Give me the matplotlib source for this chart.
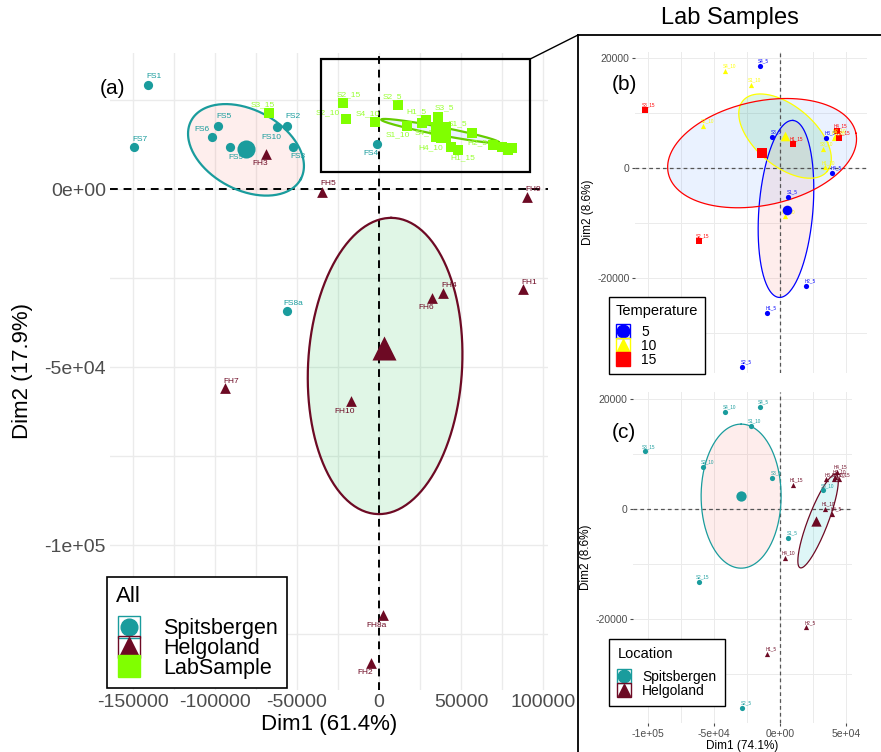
import numpy as np
import matplotlib.pyplot as plt
from matplotlib.lines import Line2D
from matplotlib.patches import Rectangle

plt.rcParams['font.family'] = ['Liberation Sans', 'DejaVu Sans']

# ---------------- panel (a): all samples (PCA scores) ----------------
sp_names = ["FS1", "FS7", "FS5", "FS6", "FS9", "FS10", "FS2", "FS3", "FS4", "FS8a"]
sp_x = [-140900, -149400, -98200, -101800, -90900, -62200, -56100, -52400, -1200, -56100]
sp_y = [29200, 11800, 17700, 14600, 11800, 17400, 17700, 11800, 12600, -34300]

hg_names = ["FH3", "FH5", "FH9", "FH1", "FH4", "FH6", "FH7", "FH10", "FH8a", "FH2"]
hg_x = [-68900, -34800, 90200, 87800, 39000, 32300, -93900, -17100, 2400, -4900]
hg_y = [9800, -800, -2200, -28100, -29200, -30600, -55900, -59600, -119700, -133100]

lab_names = ["S3_15", "S2_15", "S2_10", "S4_10", "S2_5", "S1_10", "H1_5", "", "S3_5", "S4_5",
             "", "", "S1_5", "H4_10", "H1_15", "H2_5", "", "", ""]
lab_x = [-67100, -22000, -20100, -2400, 11600, 17100, 26200, 28700, 36000, 34800,
         40200, 37800, 56700, 43900, 48200, 69500, 75000, 81100, 78700]
lab_y = [21300, 24200, 19700, 18800, 23600, 17700, 18500, 19400, 20200, 16600,
         17100, 14300, 15700, 11800, 11000, 12400, 11800, 11500, 11000]

# group centres
cent_sp = [-81100, 11200]
cent_hg = [3000, -44700]
cent_lab = [37800, 16000]

# confidence ellipses: centre, two semi-axis vectors (data units)
ell_sp = [(-81100, 11000), (33400, -8200), (-11500, -9900)]
ell_hg = [(3700, -49700), (3700, 41600), (47000, 0)]
ell_lab = [(37200, 16300), (35900, -3200), (-500, -1100)]

zoom_box = [-35400, 4800, 92100, 36500]   # x0, y0, x1, y1

# label offsets in pixels (dx, dy up)
offs_a = {"FS1": (6, 9), "FS7": (6, 8), "FS5": (6, 9), "FS6": (-10, 8), "FS9": (6, -10),
          "FS10": (-6, -10), "FS2": (6, 9), "FS3": (5, -9), "FS4": (-6, -9), "FS8a": (6, 8),
          "FH3": (-6, -9), "FH5": (6, 8), "FH9": (6, 7), "FH1": (6, 7), "FH4": (6, 7),
          "FH6": (-6, -10), "FH7": (6, 7), "FH10": (-6, -10), "FH8a": (-6, -10), "FH2": (-6, -10),
          "S3_15": (-6, 8), "S2_15": (6, 8), "S2_10": (-18, 6), "S4_10": (-7, 8), "S2_5": (-6, 8),
          "S1_10": (-9, -9), "H1_5": (-6, 11), "S3_5": (6, 9), "S1_5": (-15, 9), "S4_5": (-12, -3),
          "H4_10": (-20, -1), "H1_15": (5, -8), "H2_5": (-16, 2)}

# ---------------- panels (b), (c): lab samples ----------------
ls_names = ["S4_5", "S4_10", "S1_10", "S3_15", "S2_10", "S3_5", "H1_15", "S3_10", "H3_5", "H4_15",
            "H2_15", "H2_10", "H1_10", "H4_5", "S1_5", "H4_10", "S2_15", "H2_5", "H1_5", "S2_5", "H3_10"]
ls_x = [-15500, -41700, -22300, -102500, -58000, -6100, 9500, 32500, 34800, 43000,
        45000, 41700, 33700, 39700, 6000, 3400, -61700, 19700, -9800, -28800, 41000]
ls_y = [18600, 17700, 15100, 10500, 7700, 5600, 4400, 3400, 5400, 6800,
        5400, 5800, 100, -900, -5200, -8800, -13200, -21500, -26300, -36200, 5400]

temps = [5, 10, 15]
locs = ["Spitsbergen", "Helgoland"]

ell_temp = {5: [(4500, -7450), (5300, 16100), (20400, -380)],
            10: [(3800, 5800), (31900, -6430), (-14600, -4180)],
            15: [(-13600, 2700), (71100, 3640), (8200, -9250)]}
ell_loc = {"Spitsbergen": [(-29500, 2360), (0, 13100), (30300, 0)],
           "Helgoland": [(28800, -2180), (13600, 8490), (7050, -650)]}

TEAL = '#1a9c9d'
MAROON = '#6d0a24'
GREEN = '#80ff00'
temp_col = {5: '#0000ff', 10: '#ffff00', 15: '#ff0000'}
temp_mk = {5: 'o', 10: '^', 15: 's'}
loc_col = {"Spitsbergen": TEAL, "Helgoland": MAROON}
loc_mk = {"Spitsbergen": 'o', "Helgoland": '^'}
FILL_PINK = '#f8766d'
FILL_GREEN = '#00ba38'
FILL_BLUE = '#619cff'
FILL_CYAN = '#00bfc4'
GRID = '#ebebeb'
TICK = '#4d4d4d'


def ellipse(ax, spec, edge, fill, lw=1.3, alpha=0.12):
    c, u, v = spec
    t = np.linspace(0, 2 * np.pi, 240)
    x = c[0] + u[0] * np.cos(t) + v[0] * np.sin(t)
    y = c[1] + u[1] * np.cos(t) + v[1] * np.sin(t)
    ax.fill(x, y, color=fill, alpha=alpha, lw=0, zorder=1)
    ax.plot(x, y, color=edge, lw=lw, zorder=2)


def labels(ax, names, xs, ys, col, size, offs=None, default=(4, 5)):
    for n, x, y in zip(names, xs, ys):
        if not n:
            continue
        dx, dy = (offs or {}).get(n, default)
        ax.annotate(n, (x, y), xytext=(dx * 0.72, dy * 0.72), textcoords='offset points',
                    ha='center', va='center', color=col, fontsize=size, zorder=4)


fig = plt.figure(figsize=(8.81, 7.52), dpi=100)

# ---------- (a) ----------
ax = fig.add_axes([110 / 881, 1 - 690 / 752, 438 / 881, 637 / 752])
ax.set_xlim(-164000, 103000)
ax.set_ylim(-140700, 38200)
ax.set_xticks([-150000, -100000, -50000, 0, 50000, 100000])
ax.set_xticklabels(['-150000', '-100000', '-50000', '0', '50000', '100000'])
ax.set_xticks([-125000, -75000, -25000, 25000, 75000], minor=True)
ax.set_yticks([-100000, -50000, 0])
ax.set_yticklabels(['-1e+05', '-5e+04', '0e+00'])
ax.set_yticks([-125000, -75000, -25000, 25000], minor=True)
ax.grid(True, which='both', color=GRID, lw=1.0, zorder=0)
ax.set_axisbelow(True)
for s in ax.spines.values():
    s.set_visible(False)
ax.tick_params(which='both', length=0, labelsize=14, labelcolor=TICK, pad=3)
ax.set_xlabel('Dim1 (61.4%)', fontsize=16, labelpad=2)
ax.set_ylabel('Dim2 (17.9%)', fontsize=16, labelpad=8)
ax.axhline(0, color='black', ls=(0, (4, 3)), lw=1.4, zorder=1.5)
ax.axvline(0, color='black', ls=(0, (4, 3)), lw=1.4, zorder=1.5)

ellipse(ax, ell_sp, TEAL, FILL_PINK, lw=1.6)
ellipse(ax, ell_hg, MAROON, FILL_GREEN, lw=1.6)
ellipse(ax, ell_lab, '#66cc00', FILL_BLUE, lw=1.6)

ax.scatter(sp_x, sp_y, s=44, marker='o', color=TEAL, lw=0, zorder=3)
ax.scatter(hg_x, hg_y, s=60, marker='^', color=MAROON, lw=0, zorder=3)
ax.scatter(lab_x, lab_y, s=50, marker='s', color=GREEN, lw=0, zorder=3)
labels(ax, sp_names, sp_x, sp_y, TEAL, 6, offs_a)
labels(ax, hg_names, hg_x, hg_y, MAROON, 6, offs_a)
labels(ax, lab_names, lab_x, lab_y, '#99ff33', 6, offs_a)
ax.scatter(*cent_sp, s=170, marker='o', color=TEAL, lw=0, zorder=5)
ax.scatter(*cent_hg, s=300, marker='^', color=MAROON, lw=0, zorder=5)
ax.scatter(*cent_lab, s=190, marker='s', color=GREEN, lw=0, zorder=5)

ax.add_patch(Rectangle((zoom_box[0], zoom_box[1]), zoom_box[2] - zoom_box[0],
                       zoom_box[3] - zoom_box[1], fill=False, ec='black', lw=1.6, zorder=6))
fig.text(100 / 881, 1 - 88 / 752, '(a)', fontsize=15, va='center')

h_all = [(Line2D([], [], marker='s', ms=16, mfc='none', mec=TEAL, ls=''),
          Line2D([], [], marker='o', ms=12, color=TEAL, ls='')),
         (Line2D([], [], marker='s', ms=16, mfc='none', mec=MAROON, ls=''),
          Line2D([], [], marker='^', ms=14, color=MAROON, ls='')),
         (Line2D([], [], marker='s', ms=16, mfc='none', mec=GREEN, ls=''),
          Line2D([], [], marker='s', ms=14, color=GREEN, ls=''))]
leg = ax.legend(h_all, ['Spitsbergen', 'Helgoland', 'LabSample'], title='All',
                loc='upper left', bbox_to_anchor=(107 / 881, 1 - 577 / 752),
                bbox_transform=fig.transFigure, fancybox=False, edgecolor='black',
                framealpha=1, fontsize=15.5, title_fontsize=16, alignment='left',
                labelspacing=-0.05, handlelength=1.2, handletextpad=1.0, borderpad=0.42,
                borderaxespad=0)
leg.get_frame().set_linewidth(1.2)
leg._legend_box.sep = 8
leg.set_zorder(10)

# ---------- (b) and (c) ----------
ls_temp = [int(n.split('_')[1]) for n in ls_names]
ls_loc = ["Spitsbergen" if n.startswith('S') else "Helgoland" for n in ls_names]


def lab_axes(rect, xlim, ylim):
    a = fig.add_axes(rect)
    a.set_xlim(*xlim)
    a.set_ylim(*ylim)
    a.set_xticks([-100000, -50000, 0, 50000])
    a.set_xticklabels(['-1e+05', '-5e+04', '0e+00', '5e+04'])
    a.set_xticks([-75000, -25000, 25000], minor=True)
    a.set_yticks([-20000, 0, 20000])
    a.set_yticklabels(['-20000', '0', '20000'])
    a.set_yticks([-30000, -10000, 10000], minor=True)
    a.grid(True, which='both', color=GRID, lw=0.7, zorder=0)
    a.set_axisbelow(True)
    for s in a.spines.values():
        s.set_visible(False)
    a.tick_params(which='major', length=2.5, color=TICK, labelsize=7.5, labelcolor=TICK, pad=1.5)
    a.tick_params(which='minor', length=0)
    a.axhline(0, color='#555555', ls=(0, (3, 2.5)), lw=0.9, zorder=1.5)
    a.axvline(0, color='#555555', ls=(0, (3, 2.5)), lw=0.9, zorder=1.5)
    a.set_ylabel('Dim2 (8.6%)', fontsize=8.5, labelpad=2)
    return a


axb = lab_axes([635 / 881, 1 - 373 / 752, 232 / 881, 321 / 752], (-109900, 65900), (-37300, 21100))
axb.tick_params(axis='x', labelbottom=False, length=0)
for t, fc in zip(temps, [FILL_PINK, FILL_GREEN, FILL_BLUE]):
    ellipse(axb, ell_temp[t], temp_col[t], fc, lw=0.9, alpha=0.13)
for t in temps:
    idx = [i for i, v in enumerate(ls_temp) if v == t]
    xs = [ls_x[i] for i in idx]
    ys = [ls_y[i] for i in idx]
    axb.scatter(xs, ys, s=14, marker=temp_mk[t], color=temp_col[t], lw=0, zorder=3)
    labels(axb, [ls_names[i] for i in idx], xs, ys, temp_col[t], 3.3)
    axb.scatter(np.mean(xs), np.mean(ys), s=48, marker=temp_mk[t], color=temp_col[t], lw=0, zorder=5)
fig.text(612 / 881, 1 - 85 / 752, '(b)', fontsize=15, va='center')

h_t = [(Line2D([], [], marker='s', ms=10, mfc='none', mec=temp_col[t], ls=''),
        Line2D([], [], marker=temp_mk[t], ms=9, color=temp_col[t], ls='')) for t in temps]
lb = axb.legend(h_t, [str(t) for t in temps], title='Temperature', loc='upper left',
                bbox_to_anchor=(609 / 881, 1 - 297 / 752), bbox_transform=fig.transFigure,
                fancybox=False, edgecolor='black', framealpha=1, fontsize=10,
                title_fontsize=10.5, alignment='left', labelspacing=0.0, handlelength=1.0,
                handletextpad=0.8, borderpad=0.5, borderaxespad=0)
lb.get_frame().set_linewidth(1.0)
lb._legend_box.sep = 5

axc = lab_axes([633 / 881, 1 - 723 / 752, 219 / 881, 331 / 752], (-111400, 54500), (-38900, 21300))
axc.set_xlabel('Dim1 (74.1%)', fontsize=8.5, labelpad=1)
for l, fc in zip(locs, [FILL_PINK, FILL_CYAN]):
    ellipse(axc, ell_loc[l], loc_col[l], fc, lw=0.9, alpha=0.13)
for l in locs:
    idx = [i for i, v in enumerate(ls_loc) if v == l]
    xs = [ls_x[i] for i in idx]
    ys = [ls_y[i] for i in idx]
    axc.scatter(xs, ys, s=14, marker=loc_mk[l], color=loc_col[l], lw=0, zorder=3)
    labels(axc, [ls_names[i] for i in idx], xs, ys, loc_col[l], 3.3)
    axc.scatter(np.mean(xs), np.mean(ys), s=55, marker=loc_mk[l], color=loc_col[l], lw=0, zorder=5)
fig.text(612 / 881, 1 - 432 / 752, '(c)', fontsize=15, va='center')

h_l = [(Line2D([], [], marker='s', ms=10, mfc='none', mec=loc_col[l], ls=''),
        Line2D([], [], marker=loc_mk[l], ms=9, color=loc_col[l], ls='')) for l in locs]
lc = axc.legend(h_l, locs, title='Location', loc='upper left',
                bbox_to_anchor=(609 / 881, 1 - 639 / 752), bbox_transform=fig.transFigure,
                fancybox=False, edgecolor='black', framealpha=1, fontsize=10,
                title_fontsize=10.5, alignment='left', labelspacing=0.0, handlelength=1.0,
                handletextpad=0.8, borderpad=0.6, borderaxespad=0)
lc.get_frame().set_linewidth(1.0)
lc._legend_box.sep = 6

# frame around the lab-sample panels and connector from the zoom box
fx, fy = 578 / 881, 1 - 35 / 752
fig.add_artist(Line2D([fx, fx], [0, fy], color='black', lw=1.3, transform=fig.transFigure))
fig.add_artist(Line2D([fx, 1], [fy, fy], color='black', lw=1.3, transform=fig.transFigure))
corner = fig.transFigure.inverted().transform(ax.transData.transform((zoom_box[2], zoom_box[3])))
fig.add_artist(Line2D([corner[0], fx], [corner[1], fy], color='black', lw=1.0,
                      transform=fig.transFigure))
fig.text(730 / 881, 1 - 18 / 752, 'Lab Samples', fontsize=17, ha='center', va='center')

fig.savefig('out.png', dpi=100)
